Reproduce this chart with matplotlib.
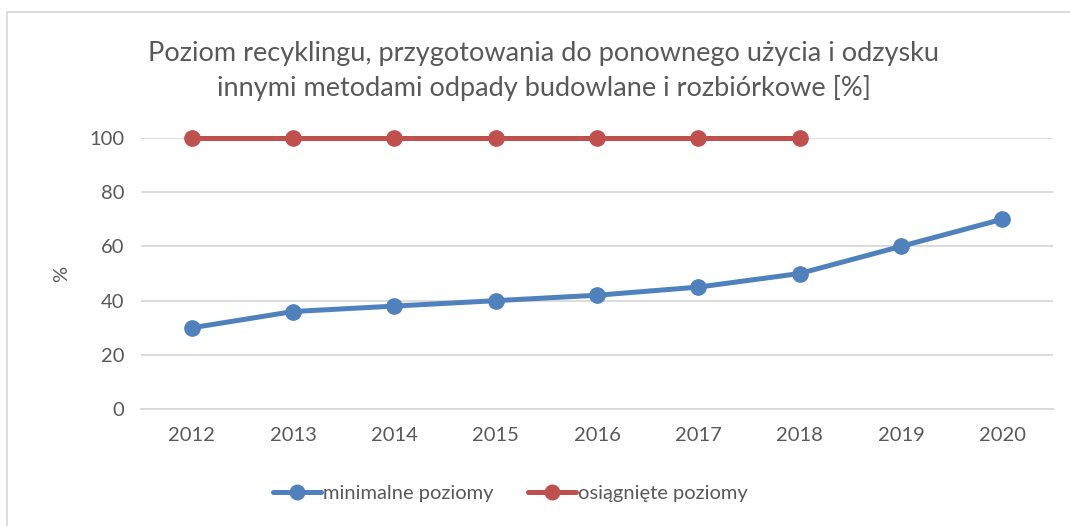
import matplotlib
matplotlib.use("Agg")
import matplotlib.pyplot as plt
from matplotlib.patches import Rectangle

# Data
years = ["2012", "2013", "2014", "2015", "2016", "2017", "2018", "2019", "2020"]
minimalne = [30, 36, 38, 40, 42, 45, 50, 60, 70]
osiagniete_years = ["2012", "2013", "2014", "2015", "2016", "2017", "2018"]
osiagniete = [100, 100, 100, 100, 100, 100, 100]
yticks = [0, 20, 40, 60, 80, 100]

plt.rcParams['font.family'] = ['Lato', 'DejaVu Sans']
txt = '#595959'
blue = '#4f81bd'
red = '#c0504d'

fig = plt.figure(figsize=(10.7, 5.26), dpi=100)
ax = fig.add_axes([0.132, 0.222, 0.852, 0.516])

x = list(range(len(years)))
xr = [years.index(y) for y in osiagniete_years]
ax.plot(x, minimalne, color=blue, lw=3.6, marker='o', ms=11,
        label='minimalne poziomy', solid_capstyle='round', clip_on=False)
ax.plot(xr, osiagniete, color=red, lw=3.6, marker='o', ms=11,
        label='osiągnięte poziomy', solid_capstyle='round', clip_on=False)

ax.set_xlim(-0.5, len(years) - 0.5)
ax.set_ylim(0, 100)
ax.set_yticks(yticks)
ax.set_xticks(x)
ax.set_xticklabels(years)
ax.yaxis.grid(True, color='#d9d9d9', lw=1.3)
ax.set_axisbelow(True)
for s in ax.spines.values():
    s.set_visible(False)
ax.spines['bottom'].set_visible(True)
ax.spines['bottom'].set_color('#d9d9d9')
ax.spines['bottom'].set_linewidth(1.3)
ax.tick_params(length=0, labelsize=14.5, colors=txt)
ax.tick_params(axis='x', pad=13)
ax.tick_params(axis='y', pad=12)
ax.set_ylabel('%', fontsize=14.5, color=txt, labelpad=14)

fig.text(0.508, 0.865, 'Poziom recyklingu, przygotowania do ponownego użycia i odzysku\n'
         'innymi metodami odpady budowlane i rozbiórkowe [%]',
         ha='center', va='center', fontsize=19.5, color=txt, linespacing=1.45)

leg = fig.legend(loc='center', bbox_to_anchor=(0.477, 0.062), ncol=2, frameon=False,
                 fontsize=14.5, handlelength=2.4, columnspacing=1.7, handletextpad=0.1,
                 markerscale=0.95)
for t in leg.get_texts():
    t.set_color(txt)

fig.patches.append(Rectangle((7 / 1070, -0.1), 1.1, 1 - 12 / 526 + 0.1,
                             transform=fig.transFigure, fill=False,
                             edgecolor='#d9d9d9', lw=1.3))

fig.savefig('out.png', dpi=100)
